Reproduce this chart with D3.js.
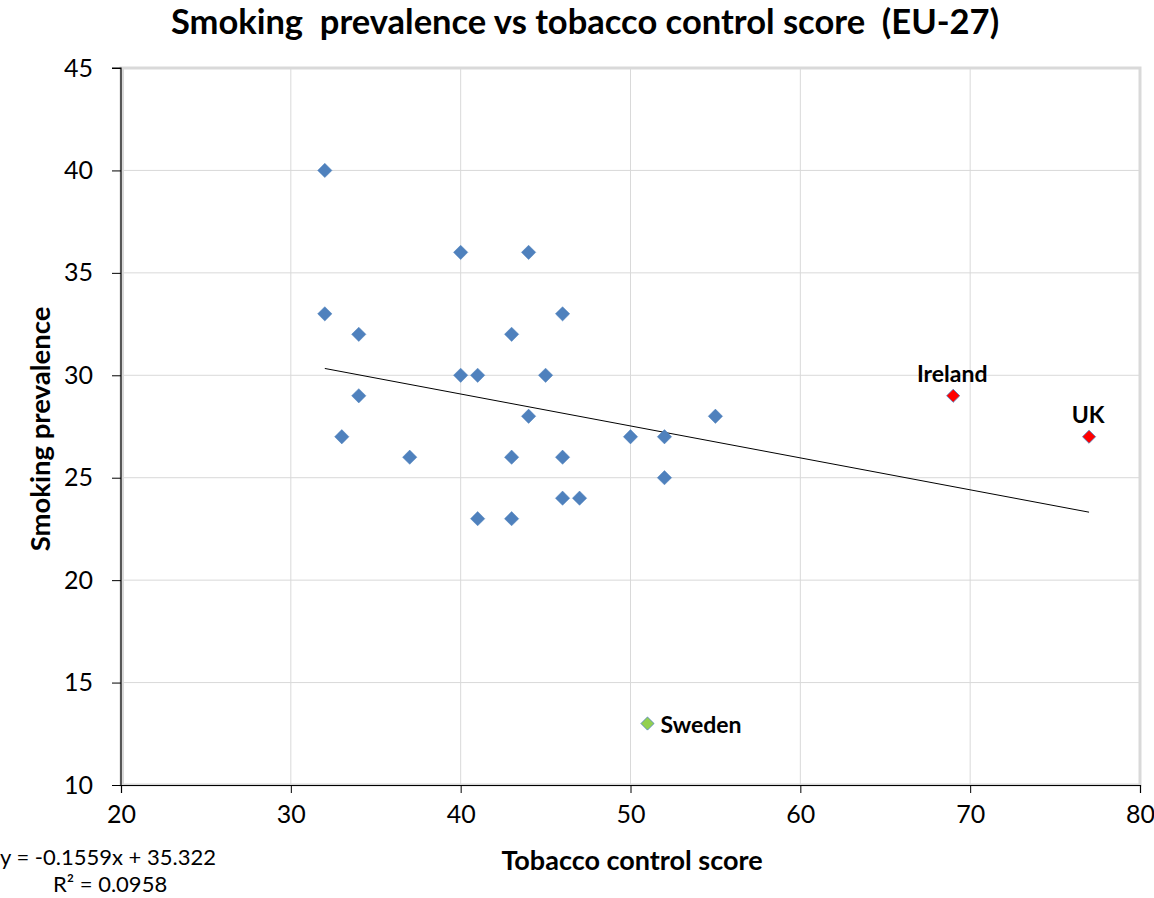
<!DOCTYPE html>
<html><head><meta charset="utf-8">
<script src="https://cdn.jsdelivr.net/npm/d3@7"></script>
<style>body{margin:0;background:#fff;} svg{display:block;font-family:Lato,sans-serif;} .tick text{font-size:25px;font-family:Lato,sans-serif;}</style>
</head><body>
<svg id="c" width="1154" height="898"></svg>
<script>
const scores = [32,40,44,32,46,34,43,40,41,45,34,44,55,33,50,52,37,43,46,52,46,47,41,43];
const prevalence = [40,36,36,33,33,32,32,30,30,30,29,28,28,27,27,27,26,26,26,25,24,24,23,23];
const highlightNames = ["Ireland","UK","Sweden"];
const highlightScores = [69,77,51];
const highlightPrev = [29,27,13];
const highlightColors = ["#FF0000","#FF0000","#92D050"];
const xTicks = [20,30,40,50,60,70,80];
const yTicks = [10,15,20,25,30,35,40,45];
const slope = -0.1559, intercept = 35.322;
const trendX = [32,77];

const svg = d3.select("#c");
const x = d3.scaleLinear().domain([20,80]).range([121,1140]);
const y = d3.scaleLinear().domain([10,45]).range([785,68]);

svg.append("g").selectAll("line").data(xTicks.slice(1)).join("line")
  .attr("x1",d=>x(d)).attr("x2",d=>x(d)).attr("y1",y(45)).attr("y2",y(10))
  .attr("stroke","#d9d9d9").attr("stroke-width",1);
svg.append("g").selectAll("line").data(yTicks.slice(1)).join("line")
  .attr("x1",x(20)).attr("x2",x(80)).attr("y1",d=>y(d)).attr("y2",d=>y(d))
  .attr("stroke","#d9d9d9").attr("stroke-width",1);
svg.append("rect").attr("x",x(20)).attr("y",y(45)).attr("width",x(80)-x(20)).attr("height",y(10)-y(45))
  .attr("fill","none").attr("stroke","#d9d9d9").attr("stroke-width",3);
svg.append("line").attr("x1",x(20)+2).attr("x2",x(20)+2).attr("y1",y(45)).attr("y2",y(10)).attr("stroke","#d9d9d9").attr("stroke-width",2);

const xAxis = d3.axisBottom(x).tickValues(xTicks).tickSize(8).tickPadding(12).tickFormat(d3.format("d"));
const yAxis = d3.axisLeft(y).tickValues(yTicks).tickSize(9).tickPadding(19).tickFormat(d3.format("d"));
const gx = svg.append("g").attr("transform",`translate(0,${y(10)})`).call(xAxis);
const gy = svg.append("g").attr("transform",`translate(${x(20)},0)`).call(yAxis);
[gx,gy].forEach(g=>{
  g.attr("font-size",null).attr("font-family",null);
  g.select(".domain").attr("stroke","#000").attr("stroke-width",1.2);
  g.selectAll(".tick line").attr("stroke","#000");
  g.selectAll(".tick text").attr("fill","#000");
});
gy.select(".domain").attr("d",`M-9,${y(45)}H0V${y(10)}`);

svg.append("line").attr("x1",x(trendX[0])).attr("y1",y(slope*trendX[0]+intercept))
  .attr("x2",x(trendX[1])).attr("y2",y(slope*trendX[1]+intercept))
  .attr("stroke","#000").attr("stroke-width",1);

const diamond = d3.symbol().type(d3.symbolDiamond2).size(130);
svg.append("g").selectAll("path").data(scores.map((s,i)=>[s,prevalence[i]])).join("path")
  .attr("d",diamond).attr("transform",d=>`translate(${x(d[0])},${y(d[1])})`)
  .attr("fill","#4F81BD").attr("stroke","#4A7EBB").attr("stroke-width",0.5);

const hl = highlightNames.map((n,i)=>({n,s:highlightScores[i],p:highlightPrev[i],c:highlightColors[i]}));
svg.append("g").selectAll("path").data(hl).join("path")
  .attr("d",d3.symbol().type(d3.symbolDiamond2).size(110)).attr("transform",d=>`translate(${x(d.s)},${y(d.p)})`)
  .attr("fill",d=>d.c).attr("stroke","#4A7EBB").attr("stroke-width",0.8);
svg.append("g").selectAll("text").data(hl).join("text")
  .attr("x",d=>d.n==="Sweden"?x(d.s)+13:x(d.s)-1)
  .attr("y",d=>d.n==="Sweden"?y(d.p)+9:y(d.p)-14)
  .attr("text-anchor",d=>d.n==="Sweden"?"start":"middle")
  .attr("font-size",23).attr("font-weight","bold").attr("fill","#000")
  .text(d=>d.n);

svg.append("text").attr("x",585).attr("y",34).attr("text-anchor","middle").attr("font-size",34.5).attr("font-weight","bold")
  .attr("xml:space","preserve").text("Smoking  prevalence vs tobacco control score  (EU-27)");
svg.append("text").attr("x",632).attr("y",870).attr("text-anchor","middle").attr("font-size",27).attr("font-weight","bold")
  .text("Tobacco control score");
svg.append("text").attr("transform","translate(50,429) rotate(-90)").attr("text-anchor","middle").attr("font-size",27.5).attr("font-weight","bold")
  .text("Smoking prevalence");
svg.append("text").attr("x",0).attr("y",865).attr("font-size",22).text("y = -0.1559x + 35.322");
svg.append("text").attr("x",53).attr("y",892).attr("font-size",22).text("R² = 0.0958");
</script>
</body></html>
